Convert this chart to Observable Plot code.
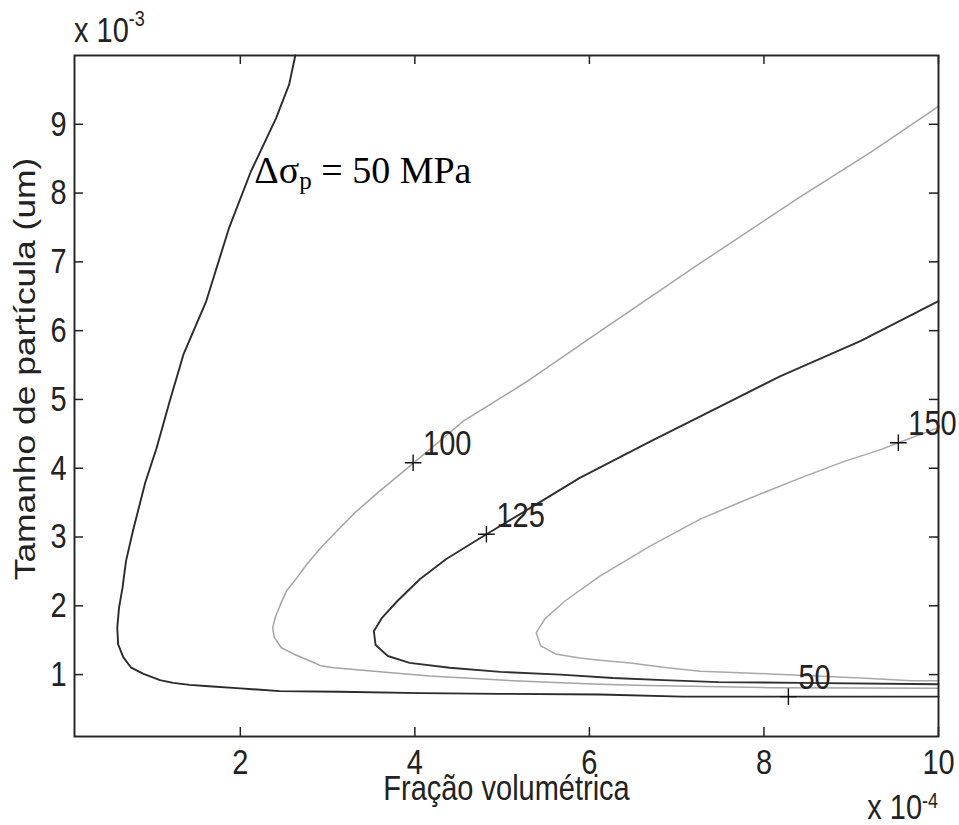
<!DOCTYPE html>
<html><head><meta charset="utf-8">
<script src="https://cdn.jsdelivr.net/npm/d3@7"></script>
<script src="https://cdn.jsdelivr.net/npm/@observablehq/plot@0.6"></script>
<style>
html,body{margin:0;padding:0;background:#fff;}
#chart{width:959px;height:825px;}
</style></head><body><div id="chart"></div>
<script>
// Axis ticks (x in units of 1e-4, y in units of 1e-3)
const xTicks = [2, 4, 6, 8, 10];
const yTicks = [1, 2, 3, 4, 5, 6, 7, 8, 9];
const xDomain = [0.1, 10];
const yDomain = [0.1, 10];

// Contour levels (MPa), their line colours and widths
const levels = [50, 100, 125, 150];
const levelColors = ["#2a2a2a", "#a4a4a4", "#303030", "#a8a8a8"];
const levelWidths = [1.9, 1.5, 1.9, 1.5];

// Contour 50 MPa
const c50x = [2.63, 2.56, 2.41, 2.12, 1.87, 1.61, 1.35, 1.19, 1.04, 0.91, 0.77, 0.69, 0.65, 0.61, 0.59, 0.60, 0.66, 0.75, 0.89, 1.08, 1.23, 1.42, 1.64, 2.00, 2.45, 3.14, 4.06, 4.98, 6.12, 7.07, 8.19, 10.0];
const c50y = [10.0, 9.58, 9.09, 8.31, 7.49, 6.43, 5.66, 4.97, 4.29, 3.79, 3.09, 2.65, 2.26, 1.97, 1.68, 1.44, 1.25, 1.10, 1.01, 0.92, 0.88, 0.85, 0.83, 0.80, 0.76, 0.75, 0.73, 0.72, 0.71, 0.68, 0.68, 0.68];
// Contour 100 MPa
const c100x = [10.0, 9.23, 8.42, 7.27, 6.12, 5.32, 4.55, 3.98, 3.60, 3.31, 3.07, 2.92, 2.76, 2.65, 2.53, 2.46, 2.40, 2.37, 2.39, 2.47, 2.61, 2.76, 2.92, 3.07, 3.60, 4.17, 4.98, 5.67, 6.12, 6.66, 8.08, 10.0];
const c100y = [9.26, 8.60, 7.95, 6.98, 5.99, 5.29, 4.68, 4.07, 3.67, 3.35, 3.04, 2.84, 2.60, 2.41, 2.22, 2.02, 1.83, 1.68, 1.54, 1.39, 1.30, 1.22, 1.13, 1.10, 1.04, 0.98, 0.92, 0.88, 0.86, 0.84, 0.81, 0.80];
// Contour 125 MPa
const c125x = [10.0, 9.11, 8.19, 7.50, 6.70, 5.89, 5.32, 4.82, 4.36, 4.06, 3.80, 3.62, 3.53, 3.55, 3.69, 3.94, 4.40, 4.98, 5.67, 6.27, 6.85, 7.48, 8.42, 10.0];
const c125y = [6.43, 5.85, 5.34, 4.90, 4.39, 3.86, 3.42, 3.04, 2.68, 2.39, 2.07, 1.82, 1.63, 1.43, 1.27, 1.17, 1.10, 1.04, 1.00, 0.95, 0.92, 0.89, 0.88, 0.86];
// Contour 150 MPa
const c150x = [10.0, 9.54, 9.34, 8.92, 8.42, 7.81, 7.27, 6.70, 6.12, 5.72, 5.49, 5.39, 5.44, 5.61, 5.89, 6.12, 6.47, 6.89, 7.27, 7.65, 8.08, 9.11, 9.69, 10.0];
const c150y = [4.59, 4.37, 4.27, 4.10, 3.86, 3.55, 3.26, 2.87, 2.43, 2.07, 1.81, 1.61, 1.42, 1.30, 1.24, 1.21, 1.17, 1.10, 1.05, 1.03, 1.01, 0.95, 0.91, 0.91];

// Contour label anchor points (clabel "+")
const labelLevels = [50, 100, 125, 150];
const labelX = [8.28, 3.98, 4.82, 9.54];
const labelY = [0.68, 4.08, 3.04, 4.37];

// Texts
const xLabel = "Fração volumétrica";
const yLabel = "Tamanho de partícula (um)";
const annotText = "Δσp = 50 MPa";
const annotX = 2.16, annotY = 8.14;

const curves = [[50, c50x, c50y], [100, c100x, c100y], [125, c125x, c125y], [150, c150x, c150y]];
const rows = curves.flatMap(([level, xs, ys]) => xs.map((x, i) => ({level, x, y: ys[i]})));
const labels = labelLevels.map((level, i) => ({level, x: labelX[i], y: labelY[i]}));

const W = 959, H = 825, mL = 74, mR = 21, mT = 55, mB = 89;
const fw = W - mL - mR, fh = H - mT - mB, tk = 9;
const ink = "#222";
const stretch = 1.22; // the reference's sans-serif text is taller than it is wide

const plot = Plot.plot({
  width: W, height: H,
  marginLeft: mL, marginRight: mR, marginTop: mT, marginBottom: mB,
  style: {fontFamily: "'Liberation Sans', Arial, sans-serif", fontSize: "29px", color: ink, background: "#fff"},
  x: {domain: xDomain, ticks: xTicks, tickSize: 0, tickPadding: 12, label: null},
  y: {domain: yDomain, ticks: yTicks, tickSize: 0, tickPadding: 8, label: null},
  color: {type: "ordinal", domain: levels, range: levelColors},
  marks: [
    Plot.line(rows, {x: "x", y: "y", z: "level", stroke: "level", strokeWidth: d => levelWidths[levels.indexOf(d.level)], curve: "linear"}),
    Plot.tickX(xTicks, {x: d => d, insetTop: fh - tk, stroke: ink, strokeWidth: 1.5}),
    Plot.tickX(xTicks, {x: d => d, insetBottom: fh - tk, stroke: ink, strokeWidth: 1.5}),
    Plot.tickY(yTicks, {y: d => d, insetRight: fw - tk, stroke: ink, strokeWidth: 1.5}),
    Plot.tickY(yTicks, {y: d => d, insetLeft: fw - tk, stroke: ink, strokeWidth: 1.5}),
    Plot.frame({stroke: ink, strokeWidth: 1.9}),
    Plot.dot(labels, {x: "x", y: "y", symbol: "plus", r: 5.4, stroke: "#111", strokeWidth: 1.4}),
    Plot.text(labels, {x: "x", y: "y", text: d => String(d.level), textAnchor: "start", lineAnchor: "middle", dx: 10, dy: -19, fill: ink, fontSize: 29}),
    Plot.text([xLabel], {frameAnchor: "bottom", text: d => d, textAnchor: "middle", dy: 38, lineAnchor: "top", fill: ink, fontSize: 29}),
    Plot.text([yLabel], {frameAnchor: "left", text: d => d, textAnchor: "middle", rotate: -90, dx: -49, dy: -27, lineAnchor: "middle", fill: ink, fontSize: 29}),
    Plot.text([annotText], {x: () => annotX, y: () => annotY, text: d => d, textAnchor: "start", lineAnchor: "bottom", fill: "#000", fontSize: 38, fontFamily: "'Liberation Serif', 'Times New Roman', serif"})
  ]
});
document.getElementById("chart").appendChild(plot);

const svg = d3.select(plot);
// Stretch MATLAB-style texts vertically
svg.selectAll("text").each(function() {
  const txt = this.textContent;
  if (txt === annotText) return;
  const rot = txt === yLabel;
  const sc = rot ? ` scale(${stretch},1)` : ` scale(1,${stretch})`;
  let tr = this.getAttribute("transform");
  if (!tr) {
    const x = +(this.getAttribute("x") || 0), y = +(this.getAttribute("y") || 0);
    this.removeAttribute("x"); this.removeAttribute("y");
    tr = `translate(${x},${y})`;
  }
  this.setAttribute("transform", tr + sc);
});
// Subscript in annotation
svg.selectAll("text").filter(function() { return this.textContent === annotText; }).each(function() {
  const t = d3.select(this);
  t.text(null);
  t.append("tspan").text("Δσ");
  t.append("tspan").attr("font-size", 25).attr("dy", 6).text("p");
  t.append("tspan").attr("dy", -6).text(" = 50 MPa");
});
// Exponent multipliers
function expLabel(x, y, base, sup, anchor, up) {
  const t = svg.append("text").attr("transform", `translate(${x},${y}) scale(1,${stretch})`).attr("text-anchor", anchor)
    .attr("font-family", "'Liberation Sans', Arial, sans-serif").attr("font-size", 29).attr("fill", ink);
  t.append("tspan").text(base);
  t.append("tspan").attr("font-size", 18).attr("dy", -up).text(sup);
}
expLabel(74, 42, "x 10", "-3", "start", 13);
expLabel(938, 819, "x 10", "-4", "end", 9);
</script>
</body></html>
